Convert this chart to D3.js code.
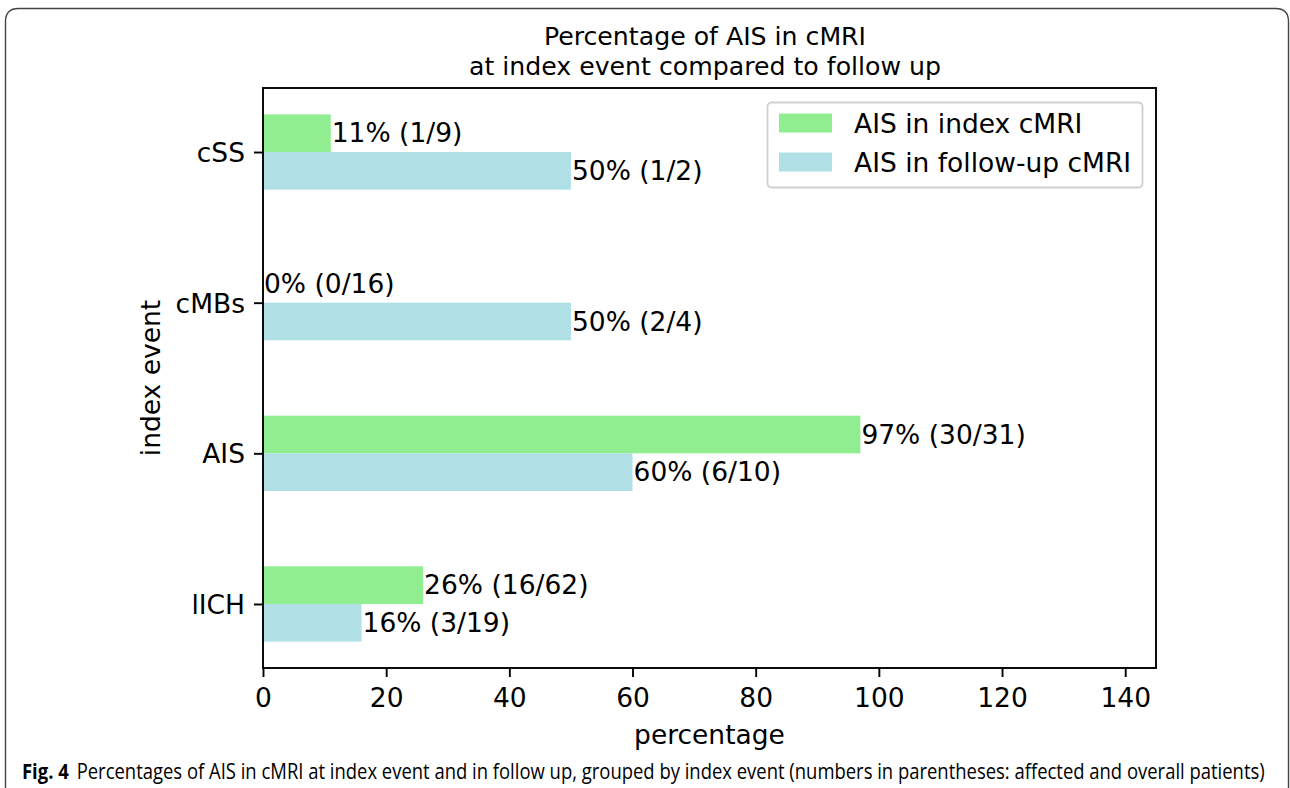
<!DOCTYPE html>
<html>
<head>
<meta charset="utf-8">
<script src="https://cdn.jsdelivr.net/npm/d3@7"></script>
<style>
  html, body { margin: 0; padding: 0; background: #fff; }
  svg { display: block; }
  text { font-family: "DejaVu Sans", sans-serif; fill: #000; }
</style>
</head>
<body>
<svg id="chart" width="1290" height="788"></svg>
<script>
// Index event categories, bottom to top
const categories = ["lICH", "AIS", "cMBs", "cSS"];
// Percentage with acute ischemic stroke in the index cMRI
const indexValues = [26, 97, 0, 11];
const indexLabels = ["26% (16/62)", "97% (30/31)", "0% (0/16)", "11% (1/9)"];
// Percentage with acute ischemic stroke in the follow-up cMRI
const followValues = [16, 60, 50, 50];
const followLabels = ["16% (3/19)", "60% (6/10)", "50% (2/4)", "50% (1/2)"];
const xTicks = [0, 20, 40, 60, 80, 100, 120, 140];
const seriesNames = ["AIS in index cMRI", "AIS in follow-up cMRI"];
const seriesColors = ["#90EE90", "#B0E0E6"];

const svg = d3.select("#chart");
const FS = 26.5;
const TFS = 25.2;
const plot = { left: 263, right: 1156, top: 88, bottom: 668 };
const barW = 0.25;

// Figure frame with rounded top corners
const r = 13;
svg.append("path")
  .attr("d", `M5.5,788 L5.5,${8.5 + r} Q5.5,8.5 ${5.5 + r},8.5 L${1288.5 - r},8.5 Q1288.5,8.5 1288.5,${8.5 + r} L1288.5,788`)
  .attr("fill", "none").attr("stroke", "#444").attr("stroke-width", 1.4);

const x = d3.scaleLinear().domain([0, 145]).range([plot.left, plot.right]);
const y = d3.scaleLinear().domain([-0.425, categories.length - 1 + 0.425]).range([plot.bottom, plot.top]);

const g = svg.append("g");

// Bars: index series sits above the category position, follow-up below
const rows = categories.map((c, i) => ({ c, i }));
g.selectAll("rect.idx").data(rows).join("rect")
  .attr("class", "idx")
  .attr("x", x(0))
  .attr("y", d => y(d.i + barW))
  .attr("width", d => x(indexValues[d.i]) - x(0))
  .attr("height", d => y(d.i) - y(d.i + barW))
  .attr("fill", seriesColors[0]);
g.selectAll("rect.fu").data(rows).join("rect")
  .attr("class", "fu")
  .attr("x", x(0))
  .attr("y", d => y(d.i))
  .attr("width", d => x(followValues[d.i]) - x(0))
  .attr("height", d => y(d.i - barW) - y(d.i))
  .attr("fill", seriesColors[1]);

// Bar value labels
g.selectAll("text.lidx").data(rows).join("text")
  .attr("x", d => x(indexValues[d.i]) + 1)
  .attr("y", d => y(d.i + barW / 2))
  .attr("dy", "0.34em")
  .attr("font-size", FS)
  .text(d => indexLabels[d.i]);
g.selectAll("text.lfu").data(rows).join("text")
  .attr("x", d => x(followValues[d.i]) + 1)
  .attr("y", d => y(d.i - barW / 2))
  .attr("dy", "0.34em")
  .attr("font-size", FS)
  .text(d => followLabels[d.i]);

// Axes
const xAxis = d3.axisBottom(x).tickValues(xTicks).tickFormat(d3.format("d")).tickSizeOuter(0).tickSize(9).tickPadding(10);
const xg = svg.append("g").attr("transform", `translate(0,${plot.bottom})`).call(xAxis);
const yAxis = d3.axisLeft(y).tickValues(categories.map((c, i) => i)).tickFormat(i => categories[i]).tickSizeOuter(0).tickSize(9).tickPadding(9);
const yg = svg.append("g").attr("transform", `translate(${plot.left},0)`).call(yAxis);
[xg, yg].forEach(a => {
  a.select(".domain").remove();
  a.selectAll(".tick line").attr("stroke", "#000").attr("stroke-width", 1.9);
  a.selectAll(".tick text").attr("font-size", FS).attr("font-family", "DejaVu Sans").attr("fill", "#000");
});
xg.selectAll(".tick text").attr("dy", "0.76em");
yg.selectAll(".tick text").attr("dy", "0.36em");

// Plot frame
svg.append("rect")
  .attr("x", plot.left).attr("y", plot.top)
  .attr("width", plot.right - plot.left).attr("height", plot.bottom - plot.top)
  .attr("fill", "none").attr("stroke", "#000").attr("stroke-width", 1.9);

// Axis titles
svg.append("text").attr("x", (plot.left + plot.right) / 2).attr("y", 744)
  .attr("text-anchor", "middle").attr("font-size", FS).text("percentage");
svg.append("text").attr("transform", `translate(160,${(plot.top + plot.bottom) / 2}) rotate(-90)`)
  .attr("text-anchor", "middle").attr("font-size", FS).text("index event");

// Chart title
const title = svg.append("text").attr("text-anchor", "middle").attr("font-size", TFS);
title.append("tspan").attr("x", 705).attr("y", 45).text("Percentage of AIS in cMRI");
title.append("tspan").attr("x", 705).attr("y", 75).text("at index event compared to follow up");

// Legend
const lg = svg.append("g");
lg.append("rect").attr("x", 767.5).attr("y", 102.5).attr("width", 375).attr("height", 85)
  .attr("rx", 4).attr("fill", "#fff").attr("fill-opacity", 0.8)
  .attr("stroke", "#d0d0d0").attr("stroke-width", 1.8);
seriesNames.forEach((name, i) => {
  const cy = 123 + i * 39;
  lg.append("rect").attr("x", 779).attr("y", cy - 9.5).attr("width", 53).attr("height", 19)
    .attr("fill", seriesColors[i]);
  lg.append("text").attr("x", 854).attr("y", cy).attr("dy", "0.36em")
    .attr("font-size", FS).text(name);
});

// Figure caption
const cap = svg.append("g").attr("transform", "translate(22,779)");
const capText = cap.append("text")
  .style("font-family", "'Open Sans', 'Noto Sans', sans-serif").attr("font-size", 21);
capText.append("tspan").attr("font-weight", "bold").text("Fig. 4");
capText.append("tspan").attr("dx", 9).text("Percentages of AIS in cMRI at index event and in follow up, grouped by index event (numbers in parentheses: affected and overall patients)");
const natural = capText.node().getComputedTextLength();
const target = 1258 - 22;
capText.attr("transform", `scale(${target / natural},1)`);
</script>
</body>
</html>
